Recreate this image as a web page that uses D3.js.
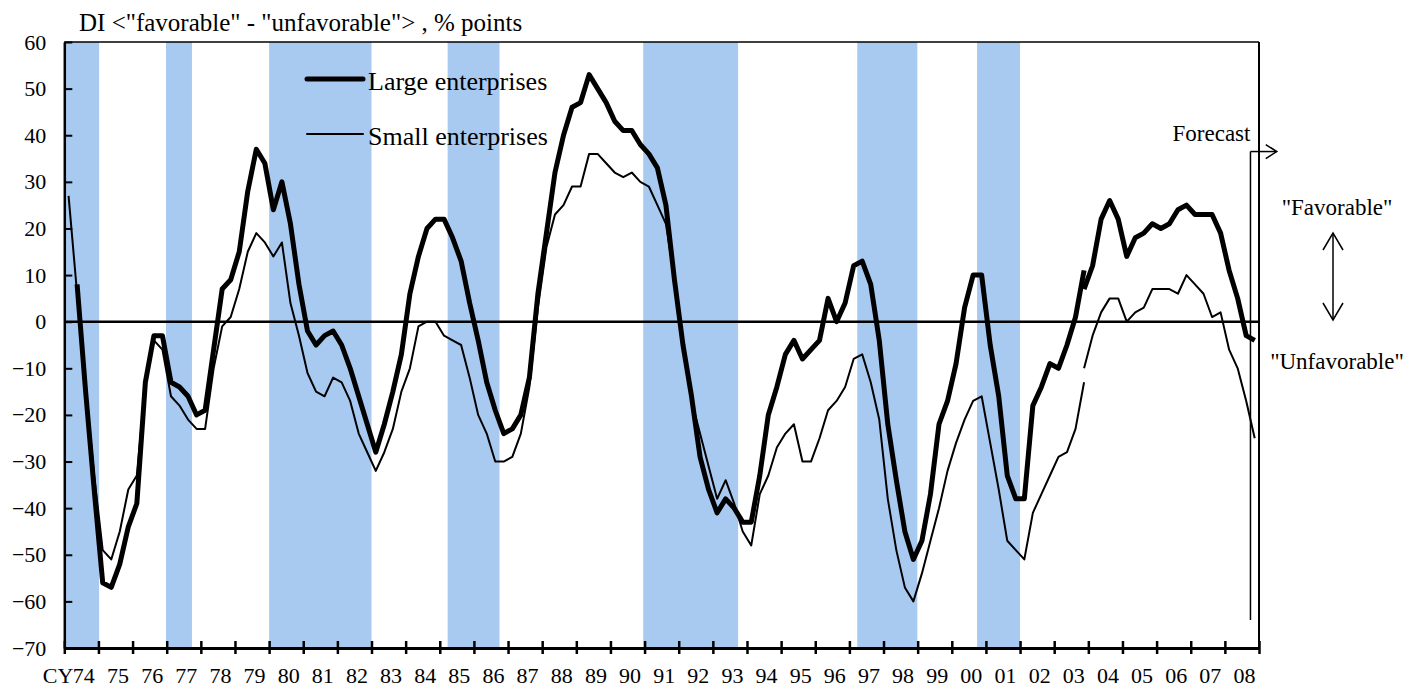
<!DOCTYPE html>
<html>
<head>
<meta charset="utf-8">
<script src="https://cdn.jsdelivr.net/npm/d3@7"></script>
<style>
  body { margin: 0; background: #fff; }
  svg { display: block; font-family: "Liberation Serif", "Times New Roman", serif; }
</style>
</head>
<body>
<svg id="chart" width="1406" height="688"></svg>
<script>
// quarterly DI, old basis starts 1974 Q1, new basis starts 2003 Q4
const largeOld = [
  null, 8, -15, -36,   -56, -57, -52, -44,   -39, -13, -3, -3,   -13, -14, -16, -20,
  -19, -6, 7, 9,       15, 28, 37, 34,       24, 30, 21, 8,      -2, -5, -3, -2,
  -5, -10, -16, -22,   -28, -22, -15, -7,    6, 14, 20, 22,      22, 18, 13, 4,
  -4, -13, -19, -24,   -23, -20, -12, 6,     19, 32, 40, 46,     47, 53, 50, 47,
  43, 41, 41, 38,      36, 33, 25, 9,        -5, -16, -29, -36,  -41, -38, -40, -43,
  -43, -33, -20, -14,  -7, -4, -8, -6,       -4, 5, 0, 4,        12, 13, 8, -4,
  -22, -34, -45, -51,  -47, -37, -22, -17,   -9, 3, 10, 10,      -5, -16, -33, -38,
  -38, -18, -14, -9,   -10, -5, 1, 11
];
const smallOld = [
  27, 6, -14, -33,     -49, -51, -45, -36,   -33, -13, -4, -6,   -16, -18, -21, -23,
  -23, -10, -1, 1,     7, 15, 19, 17,        14, 17, 4, -3,      -11, -15, -16, -12,
  -13, -17, -24, -28,  -32, -28, -23, -15,   -10, -1, 0, 0,      -3, -4, -5, -12,
  -20, -24, -30, -30,  -29, -24, -14, 3,     16, 23, 25, 29,     29, 36, 36, 34,
  32, 31, 32, 30,      29, 25, 21, 9,        -4, -17, -24, -31,  -38, -34, -39, -45,
  -48, -37, -33, -27,  -24, -22, -30, -30,   -25, -19, -17, -14, -8, -7, -13, -21,
  -38, -49, -57, -60,  -54, -47, -40, -32,   -26, -21, -17, -16, -26, -36, -47, -49,
  -51, -41, -37, -33,  -29, -28, -23, -13
];
const largeNew = [7,  12, 22, 26, 22,  14, 18, 19, 21,  20, 21, 24, 25,  23, 23, 23, 19,  11, 5, -3, -4];
const smallNew = [-10, -3, 2, 5, 5,  0, 2, 3, 7,  7, 7, 6, 10,  8, 6, 1, 2,  -6, -10, -17, -25];

// recession periods (shaded), in fractional years
const recessions = [
  [1974.0, 1975.02], [1976.98, 1977.74], [1980.0, 1983.0], [1985.23, 1986.75],
  [1990.96, 1993.74], [1997.23, 1998.99], [2000.74, 2002.0]
];

const yTicks = [-70, -60, -50, -40, -30, -20, -10, 0, 10, 20, 30, 40, 50, 60];
const years = d3.range(1974, 2010);
const yearLabels = d3.range(1974, 2009);

const forecastAt = 2008.75;
const forecastTop = 36.5, forecastBottom = -64, forecastArrowEnd = 2009.52;

const svg = d3.select("#chart");
const x = d3.scaleLinear().domain([1974, 2009]).range([64.3, 1259]);
const y = d3.scaleLinear().domain([-70, 60]).range([648, 42]);

function toPoints(values, startYear, startQ) {
  return values.map((v, i) => ({ t: startYear + (startQ - 1 + i + 0.5) / 4, v: v }));
}

// shaded bands
svg.append("g").selectAll("rect")
  .data(recessions)
  .join("rect")
  .attr("x", d => x(d[0]))
  .attr("y", y(60))
  .attr("width", d => x(d[1]) - x(d[0]))
  .attr("height", y(-70) - y(60))
  .style("fill", "#a8caf0");

// top and right border
svg.append("line")
  .attr("x1", x(1974)).attr("x2", x(2009))
  .attr("y1", y(60)).attr("y2", y(60))
  .style("stroke", "#000").style("stroke-width", 1.5);
svg.append("line")
  .attr("x1", x(2009)).attr("x2", x(2009))
  .attr("y1", y(60)).attr("y2", y(-70))
  .style("stroke", "#000").style("stroke-width", 2);

// zero line
svg.append("line")
  .attr("x1", x(1974)).attr("x2", x(2009))
  .attr("y1", y(0)).attr("y2", y(0))
  .style("stroke", "#000").style("stroke-width", 2.5);

// y axis
const yAxis = svg.append("g")
  .attr("transform", "translate(" + x(1974) + ",0)")
  .call(d3.axisLeft(y).tickValues(yTicks).tickSizeInner(-8).tickSizeOuter(0).tickPadding(18));
yAxis.select(".domain").style("stroke-width", 2.5);
yAxis.selectAll(".tick line").style("stroke-width", 2);
yAxis.selectAll("text")
  .style("font-size", "22px")
  .style("font-family", "Liberation Serif")
  .attr("fill", "#000");

// x axis: ticks at year boundaries
const xAxis = svg.append("g")
  .attr("transform", "translate(0," + y(-70) + ")")
  .call(d3.axisBottom(x).tickValues(years).tickFormat("").tickSizeOuter(0));
xAxis.select(".domain").style("stroke-width", 3);
xAxis.selectAll(".tick line").attr("y1", -7).attr("y2", 6).style("stroke-width", 2.5);

// x labels at year centres
const xLabels = svg.append("g")
  .attr("transform", "translate(2," + y(-70) + ")")
  .call(d3.axisBottom(x)
    .tickValues(yearLabels.map(d => d + 0.5))
    .tickFormat(d => String(Math.floor(d) % 100).padStart(2, "0"))
    .tickSize(0).tickPadding(19));
xLabels.select(".domain").remove();
xLabels.selectAll("text")
  .style("font-size", "22px")
  .style("font-family", "Liberation Serif")
  .attr("fill", "#000");

svg.append("text")
  .attr("x", x(1974) + 9).attr("y", 683)
  .attr("text-anchor", "end")
  .style("font-size", "22px")
  .text("CY");

// series
const line = d3.line()
  .defined(d => d.v != null)
  .x(d => x(d.t))
  .y(d => y(d.v));

const series = [
  { pts: toPoints(smallOld, 1974, 1), w: 2 },
  { pts: toPoints(smallNew, 2003, 4), w: 2 },
  { pts: toPoints(largeOld, 1974, 1), w: 5 },
  { pts: toPoints(largeNew, 2003, 4), w: 5 }
];
svg.append("g").selectAll("path")
  .data(series)
  .join("path")
  .attr("d", d => line(d.pts))
  .style("fill", "none")
  .style("stroke", "#000")
  .style("stroke-width", d => d.w)
  .style("stroke-linejoin", "round");

// forecast marker
svg.append("line")
  .attr("x1", x(forecastAt)).attr("x2", x(forecastAt))
  .attr("y1", y(forecastTop)).attr("y2", y(forecastBottom))
  .style("stroke", "#000").style("stroke-width", 1.5);
svg.append("line")
  .attr("x1", x(forecastAt)).attr("x2", x(forecastArrowEnd))
  .attr("y1", y(forecastTop)).attr("y2", y(forecastTop))
  .style("stroke", "#000").style("stroke-width", 1.5);
svg.append("path")
  .attr("d", "M" + (x(forecastArrowEnd) - 11) + "," + (y(forecastTop) - 7) +
    "L" + x(forecastArrowEnd) + "," + y(forecastTop) +
    "L" + (x(forecastArrowEnd) - 11) + "," + (y(forecastTop) + 7))
  .style("fill", "none").style("stroke", "#000").style("stroke-width", 1.5);
svg.append("text")
  .attr("x", x(forecastAt)).attr("y", 140.5)
  .attr("text-anchor", "end")
  .style("font-size", "23px")
  .text("Forecast");

// favorable / unfavorable note
const noteX = 1333;
svg.append("text").attr("x", noteX + 4).attr("y", 215)
  .attr("text-anchor", "middle").style("font-size", "23px")
  .text("\"Favorable\"");
svg.append("text").attr("x", noteX + 4).attr("y", 369)
  .attr("text-anchor", "middle").style("font-size", "23px")
  .text("\"Unfavorable\"");
svg.append("line")
  .attr("x1", noteX).attr("x2", noteX).attr("y1", 233).attr("y2", 320)
  .style("stroke", "#000").style("stroke-width", 1.5);
svg.append("path")
  .attr("d", "M" + (noteX - 10) + ",250L" + noteX + ",233L" + (noteX + 10) + ",250" +
    "M" + (noteX - 10) + ",303L" + noteX + ",320L" + (noteX + 10) + ",303")
  .style("fill", "none").style("stroke", "#000").style("stroke-width", 1.5);

// title
svg.append("text")
  .attr("x", 79).attr("y", 31)
  .style("font-size", "25px")
  .text("DI <\"favorable\" - \"unfavorable\"> , % points");

// legend
const legendItems = [
  { label: "Large enterprises", w: 5, y: 79 },
  { label: "Small enterprises", w: 2, y: 134 }
];
const legend = svg.append("g").selectAll("g")
  .data(legendItems)
  .join("g");
legend.append("line")
  .attr("x1", 307).attr("x2", 363)
  .attr("y1", d => d.y).attr("y2", d => d.y)
  .style("stroke", "#000")
  .style("stroke-width", d => d.w)
  .style("stroke-linecap", "round");
legend.append("text")
  .attr("x", 368).attr("y", d => d.y + 11)
  .style("font-size", "26px")
  .text(d => d.label);
</script>
</body>
</html>
